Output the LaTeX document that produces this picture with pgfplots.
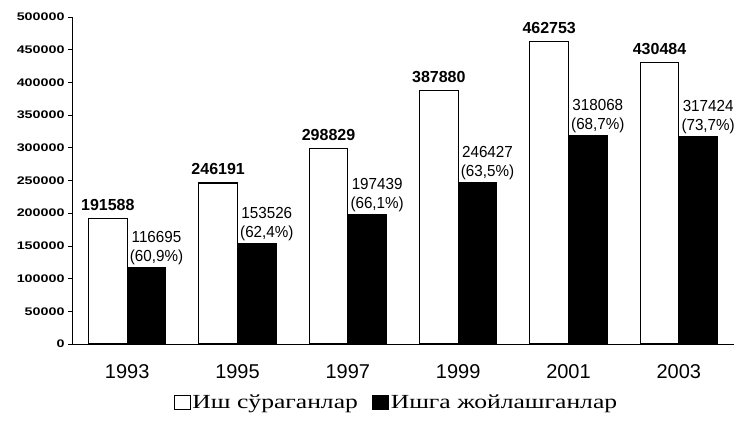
\documentclass[border=0pt]{standalone}
\usepackage{pgfplots}
\pgfplotsset{compat=1.18}
\usepackage{fontspec}
\setmainfont{Liberation Sans}
\newfontfamily\tickfont[FakeStretch=1.3]{Liberation Sans}
\newfontfamily\valfont[FakeStretch=0.95]{Liberation Sans}
\newfontfamily\legfont[FakeStretch=1.28]{Liberation Serif}

\begin{document}
\begin{tikzpicture}
\begin{axis}[
  name=ax,
  width=662bp, height=327bp, scale only axis,
  xmin=-0.5, xmax=5.5, ymin=0, ymax=500000,
  axis x line*=bottom, axis y line*=left,
  axis line style={line width=0.8bp, -},
  xtick={0,...,5},
  xticklabels={1993,1995,1997,1999,2001,2003},
  x tick style={draw=none},
  xticklabel style={font=\fontsize{20bp}{22bp}\selectfont, yshift=-13bp},
  ytick={0,50000,...,500000},
  scaled y ticks=false,
  /pgf/number format/assume math mode=true,
  yticklabel style={font=\tickfont\bfseries\fontsize{11bp}{13bp}\selectfont,
    /pgf/number format/fixed, /pgf/number format/1000 sep={}},
  y tick style={line width=0.8bp, black},
  tick align=outside,
  major tick length=4bp,
  ybar, bar width=0.35,
  nodes near coords,
  point meta=explicit symbolic,
  legend style={at={(0.49,-0.18)}, anchor=center, legend columns=2, draw=none,
    fill=none, font=\legfont\fontsize{20bp}{22bp}\selectfont,
    /tikz/every even column/.append style={column sep=12bp},
    /tikz/every odd column/.append style={column sep=0bp},
    inner sep=0pt},
  legend image code/.code={\draw[#1, line width=0.9bp, fill] (0bp,-7bp) rectangle (16bp,7bp);},
]
\addplot[draw=black, fill=white, line width=1.2bp, bar shift=-0.175,
  nodes near coords style={font=\bfseries\fontsize{16bp}{18bp}\selectfont, black, yshift=4bp}]
  coordinates {(0,191588) [191588] (1,246191) [246191] (2,298829) [298829]
               (3,387880) [387880] (4,462753) [462753] (5,430484) [430484]};
\addlegendentry{Иш сўраганлар}
\addplot[draw=black, fill=black, line width=1.2bp, bar shift=0.175,
  nodes near coords style={font=\valfont\fontsize{16bp}{19bp}\selectfont, black,
    align=center, xshift=10bp, yshift=-1bp}]
  coordinates {(0,116695) [{116695\\(60,9\%)}] (1,153526) [{153526\\(62,4\%)}]
               (2,197439) [{197439\\(66,1\%)}] (3,246427) [{246427\\(63,5\%)}]
               (4,318068) [{318068\\(68,7\%)}] (5,317424) [{317424\\(73,7\%)}]};
\addlegendentry{Ишга жойлашганлар}
\end{axis}
\pgfresetboundingbox
\path[use as bounding box] ([xshift=-72bp,yshift=-77bp]ax.south west) rectangle ([xshift=10bp,yshift=17bp]ax.north east);
\end{tikzpicture}
\end{document}
